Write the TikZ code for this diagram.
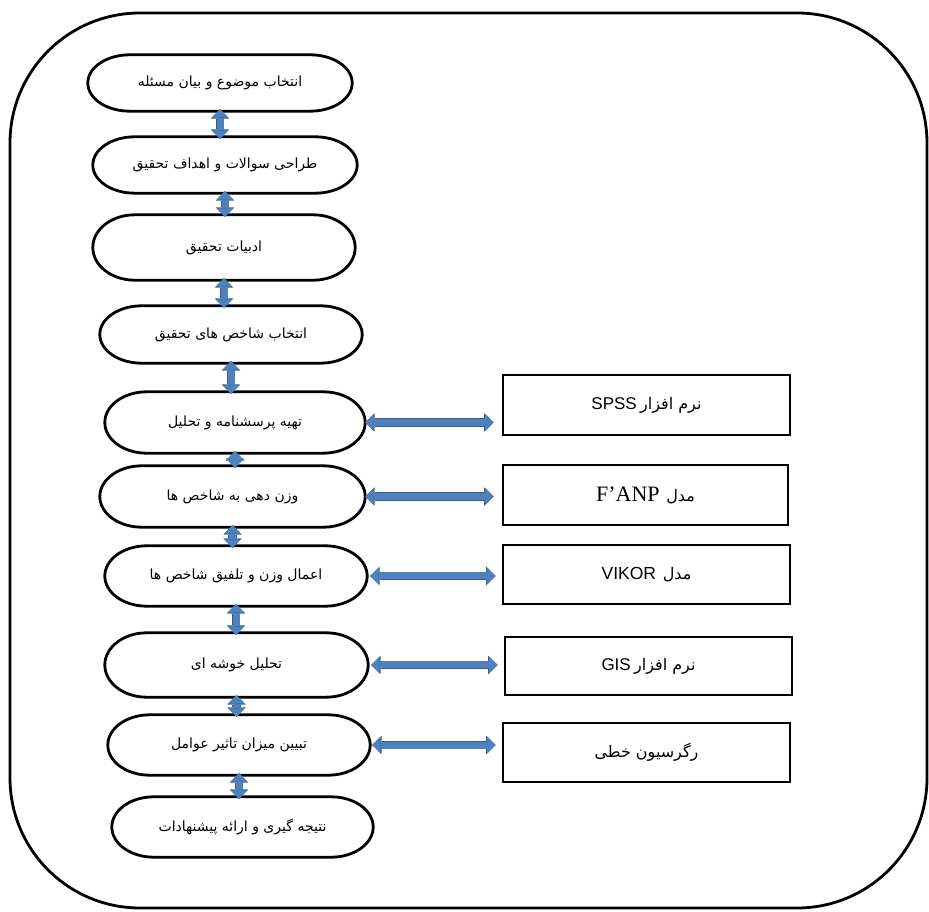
\documentclass[tikz,border=0pt]{standalone}
\usepackage{fontspec}
\usetikzlibrary{calc,arrows.meta}
\TeXXeTstate=1
\newfontfamily\fa[Script=Arabic]{DejaVu Sans}
\newfontfamily\lsans{Liberation Sans}
\newfontfamily\lserif{Liberation Serif}
\definecolor{arrfill}{HTML}{4F81BD}
\definecolor{arredge}{HTML}{385D8A}
\tikzset{
  oval/.style n args={2}{minimum width=#1pt, minimum height=#2pt, inner sep=0pt,
    font=\fa\fontsize{14}{16}\selectfont},
  sidebox/.style n args={2}{draw, line width=2.6pt, minimum width=#1pt, minimum height=#2pt, inner sep=0pt},
  ovalline/.style={line width=2.8pt},
  blockarrow/.style={line width=7pt, draw=arrfill,
    {Triangle[width=17pt,length=8.5pt,line width=0pt]}-{Triangle[width=17pt,length=8.5pt,line width=0pt]},
    preaction={draw=arredge, line width=8.6pt,
      {Triangle[width=18.5pt,length=9.5pt,line width=0pt]}-{Triangle[width=18.5pt,length=9.5pt,line width=0pt]}}},
  arfont/.style={font=\fa\fontsize{16}{18}\selectfont},
}
\newcommand{\arbox}{\fa\fontsize{16}{18}\selectfont}
\begin{document}
\begin{tikzpicture}[x=1pt,y=1pt]
\useasboundingbox (0,0) rectangle (929,911);
% outer frame
\draw[line width=2.8pt, rounded corners=130pt] (10,3) rectangle (927,898);

% left column
\node[oval={264}{56}] (n1) at (220,828) {\beginR انتخاب موضوع و بیان مسئله\endR};
\node[oval={264}{56}] (n2) at (225,746) {\beginR طراحی سوالات و اهداف تحقیق\endR};
\node[oval={262}{65}] (n3) at (224,663.5) {\beginR ادبیات تحقیق\endR};
\node[oval={262}{57}] (n4) at (231,576.5) {\beginR انتخاب شاخص های تحقیق\endR};
\node[oval={260}{61}] (n5) at (235,488.5) {\beginR تهیه پرسشنامه و تحلیل\endR};
\node[oval={265}{61}] (n6) at (232.5,414.5) {\beginR وزن دهی به شاخص ها\endR};
\node[oval={262}{60}] (n7) at (236,335) {\beginR اعمال وزن و تلفیق شاخص ها\endR};
\node[oval={263}{64}] (n8) at (236.5,246) {\beginR تحلیل خوشه ای\endR};
\node[oval={262}{60}] (n9) at (239,166) {\beginR تبیین میزان تاثیر عوامل\endR};
\node[oval={261}{60}] (n10) at (242.5,84) {\beginR نتیجه گیری و ارائه پیشنهادات\endR};

\foreach \i in {1,...,10}{
  \draw[ovalline] let \p1=(n\i.north west), \p2=(n\i.south east), \n1={(\y1-\y2)/2} in
    (\x1+42pt,\y1) -- (\x2-42pt,\y1)
    arc[start angle=90, end angle=-90, x radius=42pt, y radius={\n1*1pt}]
    -- (\x1+42pt,\y2)
    arc[start angle=270, end angle=90, x radius=42pt, y radius={\n1*1pt}] -- cycle;
}

% right boxes
\node[sidebox={287}{60}] (b1) at (646.5,506) {{\lsans\fontsize{17}{19}\selectfont SPSS}\ {\arbox\beginR نرم افزار\endR}};
\node[sidebox={285}{60}] (b2) at (645.5,416) {{\lserif\fontsize{22}{24}\selectfont F’ANP}\ \ {\arbox\beginR مدل\endR}};
\node[sidebox={287}{59}] (b3) at (646.5,336.5) {{\lsans\fontsize{17.5}{19}\selectfont VIKOR}\ \ {\arbox\beginR مدل\endR}};
\node[sidebox={287}{58}] (b4) at (648.5,245) {{\lsans\fontsize{17}{19}\selectfont GIS}\ {\arbox\beginR نرم افزار\endR}};
\node[sidebox={287}{59}] (b5) at (646.5,158.5) {{\arbox\beginR رگرسیون خطی\endR}};

% vertical connectors
\foreach \a/\b in {1/2,2/3,3/4,4/5,5/6,6/7,7/8,8/9,9/10}{
  \draw[blockarrow] ($(n\a.south)+(0,2)$) -- ($(n\a.south |- n\b.north)+(0,-2)$);
}
% horizontal connectors
\draw[blockarrow, shorten >=8pt] (n5.east) -- (n5.east -| b1.west);
\draw[blockarrow, shorten >=8pt] (n6.east) -- (n6.east -| b2.west);
\draw[blockarrow, shorten >=6pt] ($(n7.east)+(3,0)$) -- (n7.east -| b3.west);
\draw[blockarrow, shorten >=6pt] ($(n8.east)+(3,0)$) -- (n8.east -| b4.west);
\draw[blockarrow, shorten >=6pt] ($(n9.east)+(2,0)$) -- (n9.east -| b5.west);
\end{tikzpicture}
\end{document}
